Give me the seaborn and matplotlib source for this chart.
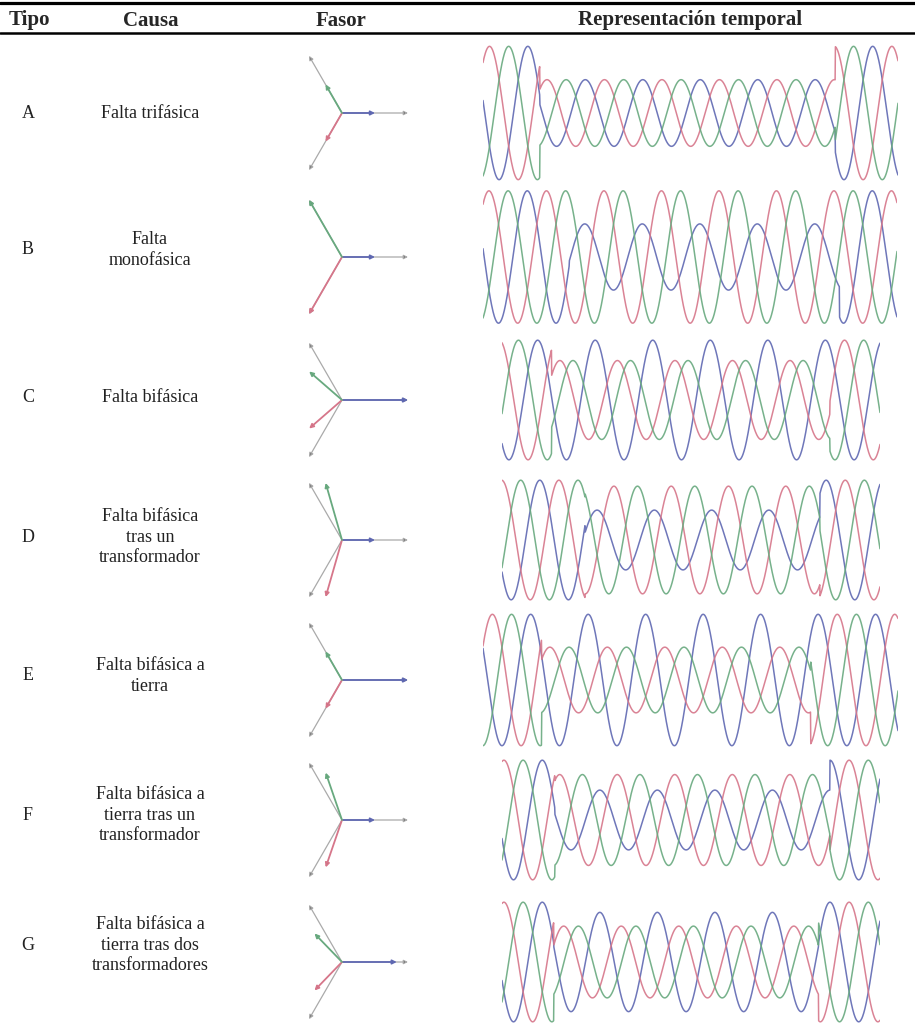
import numpy as np
import pandas as pd
import matplotlib
matplotlib.use("Agg")
import matplotlib.pyplot as plt
import seaborn as sns

sns.set_theme(style="white")
plt.rcParams['font.family'] = ['Liberation Serif', 'DejaVu Serif']

# datos de la tabla
tipos = ["A", "B", "C", "D", "E", "F", "G"]
causas = [
    "Falta trifásica",
    "Falta\nmonofásica",
    "Falta bifásica",
    "Falta bifásica\ntras un\ntransformador",
    "Falta bifásica a\ntierra",
    "Falta bifásica a\ntierra tras un\ntransformador",
    "Falta bifásica a\ntierra tras dos\ntransformadores",
]
encabezados = ["Tipo", "Causa", "Fasor", "Representación temporal"]

# fasores durante el hueco (pu, grados): fase a azul, fase b roja, fase c verde
mag_a = [0.5, 0.5, 1.0, 0.5, 1.0, 0.5, 0.83]
ang_a = [0, 0, 0, 0, 0, 0, 0]
mag_b = [0.5, 1.0, 0.66, 0.90, 0.5, 0.76, 0.60]
ang_b = [-120, -120, -139, -106, -120, -109, -134]
mag_c = [0.5, 1.0, 0.66, 0.90, 0.5, 0.76, 0.60]
ang_c = [120, 120, 139, 106, 120, 109, 134]

# ventana temporal en ciclos: duracion, inicio y fin del hueco, pico de la fase a
ciclos = [7.22, 7.2, 6.57, 6.6, 7.22, 6.57, 6.57]
inicio = [0.99, 1.5, 0.86, 1.45, 1.02, 0.92, 0.9]
fin = [6.13, 6.2, 5.7, 5.55, 5.7, 5.7, 5.5]
pico_a = [0.78, 0.77, 0.62, 0.66, 0.83, 0.7, 0.7]

colores = {"a": "#5f68b2", "b": "#d6768a", "c": "#68a97f"}

# maquetacion (pixeles)
W, H = 915, 1032
fila_y = [113, 257, 400, 540, 680, 820, 962]
texto_y = [113, 250, 398, 537, 676, 815, 945]
onda_x0 = [483, 483, 502, 502, 483, 502, 502]
onda_x1 = [898, 897, 880, 880, 898, 880, 880]
onda_h = [136, 135, 122, 122, 134, 122, 122]

fig = plt.figure(figsize=(W / 100, H / 100), dpi=100)
tab = fig.add_axes([0, 0, 1, 1])
tab.set_xlim(0, W)
tab.set_ylim(H, 0)
tab.axis("off")


def px_axes(x0, y0, w, h):
    return fig.add_axes([x0 / W, 1 - (y0 + h) / H, w / W, h / H])


# reglas y encabezado
tab.plot([0, W], [2.5, 2.5], color="black", lw=2.3)
tab.plot([0, W], [32.5, 32.5], color="black", lw=1.8)
for txt, xc in zip(encabezados, [29, 151, 341, 690]):
    tab.text(xc, 25.5, txt, ha="center", va="baseline", fontsize=15,
             fontweight="bold")

for i in range(len(tipos)):
    tab.text(28, texto_y[i], tipos[i], ha="center", va="center", fontsize=13,
             color="#222")
    tab.text(150, texto_y[i], causas[i], ha="center", va="center", fontsize=13,
             color="#222", linespacing=1.3)

    yc = fila_y[i]
    # fasores
    unit = 66
    ax = px_axes(300, yc - 72, 130, 144)
    ax.set_xlim(-42 / unit, 88 / unit)
    ax.set_ylim(-72 / unit, 72 / unit)
    ax.axis("off")
    for ang in [0, 120, -120]:
        r = np.deg2rad(ang)
        ax.annotate("", xy=(np.cos(r), np.sin(r)), xytext=(0, 0),
                    arrowprops=dict(arrowstyle="-|>", edgecolor="#aaaaaa",
                                    facecolor="#333333", lw=0.9,
                                    mutation_scale=6, shrinkA=0, shrinkB=0))
    for m, a, f in [(mag_a[i], ang_a[i], "a"), (mag_b[i], ang_b[i], "b"),
                    (mag_c[i], ang_c[i], "c")]:
        r = np.deg2rad(a)
        ax.annotate("", xy=(m * np.cos(r), m * np.sin(r)), xytext=(0, 0),
                    arrowprops=dict(arrowstyle="-|>", edgecolor=colores[f],
                                    facecolor="#444444", lw=1.3,
                                    mutation_scale=6, shrinkA=0, shrinkB=0))

    # representacion temporal
    t = np.linspace(0, ciclos[i], 1400)
    hueco = (t >= inicio[i]) & (t <= fin[i])
    filas = []
    for m, a, f, a0 in [(mag_a[i], ang_a[i], "a", 0), (mag_b[i], ang_b[i], "b", -120),
                        (mag_c[i], ang_c[i], "c", 120)]:
        amp = np.where(hueco, m, 1.0)
        fase = np.where(hueco, a, a0)
        v = amp * np.cos(2 * np.pi * (t - pico_a[i]) + np.deg2rad(fase))
        filas.append(pd.DataFrame({"t": t, "v": v, "fase": f}))
    df = pd.concat(filas, ignore_index=True)
    h = onda_h[i]
    axw = px_axes(onda_x0[i], yc - h / 2, onda_x1[i] - onda_x0[i], h)
    sns.lineplot(data=df, x="t", y="v", hue="fase", palette=colores, ax=axw,
                 legend=False, estimator=None, sort=False, linewidth=1.1, alpha=0.9)
    axw.set_xlim(0, ciclos[i])
    axw.set_ylim(-1.02, 1.02)
    axw.axis("off")

fig.savefig("out.png", dpi=100)
